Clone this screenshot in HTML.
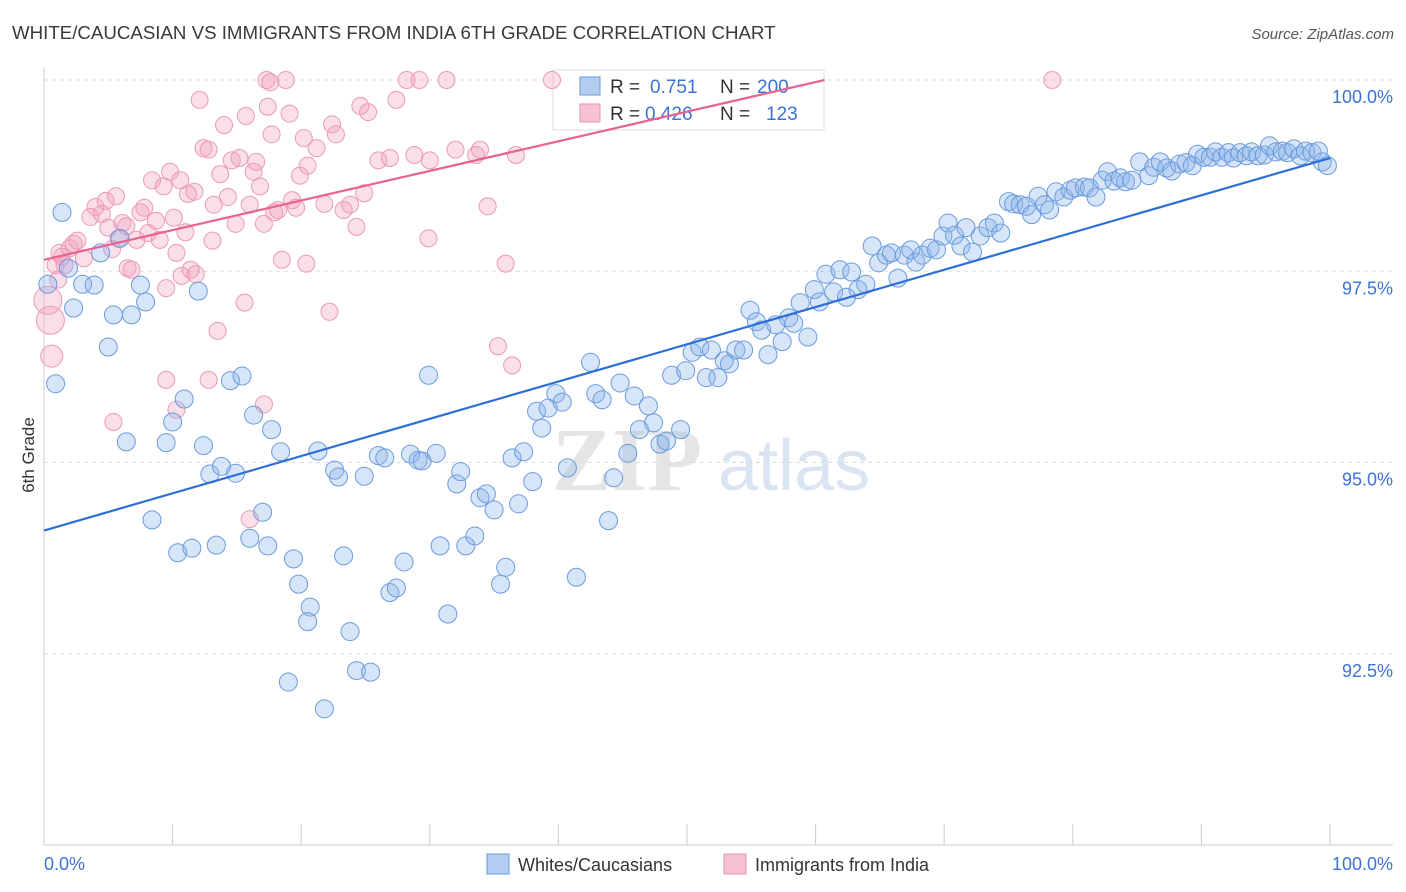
<!DOCTYPE html>
<html><head><meta charset="utf-8"><style>
body{margin:0;background:#fff;font-family:"Liberation Sans",sans-serif;}
svg{display:block}
</style></head><body>
<svg id="chart" width="1406" height="892" viewBox="0 0 1406 892">
<text x="12" y="39" font-size="18.7" fill="#3a3a3a">WHITE/CAUCASIAN VS IMMIGRANTS FROM INDIA 6TH GRADE CORRELATION CHART</text>
<text x="1394" y="39" font-size="15" fill="#555" font-style="italic" text-anchor="end">Source: ZipAtlas.com</text>
<text transform="translate(34,455) rotate(-90)" font-size="17" fill="#333" text-anchor="middle">6th Grade</text>
<g opacity="0.5">
<text x="552" y="490" font-size="90" fill="#ccc" font-family="Liberation Serif,serif" font-weight="bold">ZIP</text>
<text x="718" y="490" font-size="72" fill="#b9cbe6">atlas</text>
</g>
<g id="grid"></g><g id="axes"></g>
<g>
<rect x="553" y="70" width="271" height="60" fill="#fff" stroke="#ddd"/>
<rect x="580" y="77" width="20" height="18" fill="#b3cdf0" stroke="#6a9ad8"/>
<text x="610" y="93" font-size="19" fill="#333">R =</text><text x="650" y="93" font-size="19" fill="#3b72d9">0.751</text>
<text x="720" y="93" font-size="19" fill="#333">N =</text><text x="757" y="93" font-size="19" fill="#3b72d9">200</text>
<rect x="580" y="104" width="20" height="18" fill="#f7c3d4" stroke="#e890b0"/>
<text x="610" y="120" font-size="19" fill="#333">R =</text><text x="645" y="120" font-size="19" fill="#3b72d9">0.426</text>
<text x="720" y="120" font-size="19" fill="#333">N =</text><text x="766" y="120" font-size="19" fill="#3b72d9">123</text>
</g>
<g id="pinkPts"></g><g id="bluePts"></g><g id="lines"></g>
<g>
<rect x="487" y="854" width="22" height="20" fill="#b3cdf0" stroke="#6a9ad8"/>
<text x="518" y="871" font-size="18" fill="#333">Whites/Caucasians</text>
<rect x="724" y="854" width="22" height="20" fill="#f7c3d4" stroke="#e890b0"/>
<text x="755" y="871" font-size="18" fill="#333">Immigrants from India</text>
</g>
</svg>
<script>
const blueX=[1.4,1.9,0.3,2.3,0.9,3.0,3.9,4.4,5.9,5.4,6.8,5.0,7.5,7.9,12.0,6.4,9.5,10.0,10.9,8.4,10.4,11.5,12.4,12.9,13.4,13.8,14.9,14.5,15.4,16.3,16.0,17.0,17.4,17.7,18.4,19.4,19.8,20.7,20.5,19.0,21.8,21.3,22.6,22.9,23.3,23.8,24.3,25.4,24.9,26.0,26.5,26.9,27.4,28.0,28.5,29.1,29.4,29.9,30.5,30.8,31.4,32.1,32.4,32.8,33.5,33.9,34.4,35.0,35.5,35.9,36.4,36.9,37.3,38.0,38.3,38.7,39.2,39.8,40.3,40.7,41.4,42.5,42.9,43.4,43.9,44.3,44.8,45.4,45.9,46.3,47.0,47.4,47.9,48.4,48.8,49.5,49.9,50.4,51.0,51.5,51.9,52.4,52.9,53.3,53.8,54.4,54.9,55.4,55.8,56.3,56.9,57.4,57.9,58.3,58.8,59.4,59.9,60.3,60.8,61.4,61.9,62.4,62.8,63.3,63.9,64.4,64.9,65.5,65.9,66.4,66.9,67.4,67.8,68.3,68.9,69.4,69.9,70.3,70.8,71.3,71.7,72.2,72.8,73.4,73.9,74.4,75.0,75.4,75.9,76.4,76.8,77.3,77.8,78.2,78.7,79.3,79.8,80.2,80.9,81.3,81.8,82.3,82.7,83.2,83.7,84.1,84.6,85.2,85.9,86.3,86.8,87.3,87.7,88.3,88.8,89.3,89.7,90.2,90.7,91.1,91.6,92.1,92.5,93.0,93.5,93.9,94.4,94.9,95.3,95.8,96.3,96.7,97.2,97.7,98.1,98.6,99.1,99.4,99.8];
const blueY=[98.27,97.54,97.33,97.02,96.03,97.33,97.32,97.74,97.93,96.93,96.93,96.51,97.32,97.10,97.24,95.27,95.26,95.53,95.83,94.25,93.82,93.88,95.22,94.85,93.92,94.95,94.86,96.07,96.13,95.62,94.01,94.35,93.91,95.43,95.14,93.74,93.41,93.11,92.92,92.13,91.78,95.15,94.90,94.81,93.78,92.79,92.28,92.26,94.82,95.09,95.06,93.30,93.36,93.70,95.11,95.03,95.02,96.14,95.12,93.91,93.02,94.72,94.88,93.91,94.04,94.54,94.59,94.38,93.41,93.63,95.06,94.46,95.14,94.75,95.67,95.45,95.71,95.90,95.79,94.93,93.50,96.31,95.90,95.82,94.24,94.80,96.04,95.12,95.87,95.43,95.74,95.52,95.24,95.28,96.14,95.43,96.20,96.44,96.51,96.11,96.47,96.11,96.33,96.29,96.47,96.47,96.99,96.84,96.73,96.41,96.80,96.58,96.89,96.82,97.09,96.64,97.26,97.10,97.46,97.23,97.52,97.16,97.49,97.26,97.33,97.83,97.61,97.71,97.74,97.41,97.71,97.78,97.62,97.71,97.80,97.78,97.96,98.13,97.97,97.83,98.07,97.75,97.96,98.07,98.13,98.00,98.41,98.38,98.37,98.35,98.24,98.48,98.37,98.30,98.54,98.47,98.56,98.59,98.60,98.59,98.47,98.69,98.80,98.68,98.72,98.67,98.69,98.93,98.75,98.86,98.93,98.85,98.81,98.90,98.92,98.88,99.03,98.99,98.99,99.06,98.99,99.05,98.98,99.05,99.01,99.06,99.01,99.02,99.14,99.06,99.07,99.05,99.10,99.01,99.07,99.05,99.07,98.93,98.88];
const pinkX=[0.3,0.5,0.6,0.9,1.2,1.6,2.0,2.3,2.6,3.1,3.6,4.0,4.5,4.8,5.0,5.3,5.6,5.8,6.1,6.4,6.5,6.8,7.2,7.5,7.8,8.1,8.4,8.7,9.0,9.3,9.5,9.8,10.1,10.3,10.6,10.7,11.0,11.2,11.4,11.7,11.8,12.1,12.4,12.8,13.1,13.2,13.5,13.7,14.0,14.3,14.6,14.9,15.2,15.6,15.7,16.0,16.3,16.5,16.8,17.1,17.3,17.4,17.7,17.9,18.2,18.5,18.8,19.1,19.3,19.6,19.9,20.2,20.4,20.5,21.2,21.8,22.2,22.4,22.7,23.3,23.8,24.3,24.6,24.9,25.2,26.0,26.9,27.4,28.2,28.8,29.2,29.9,30.0,31.3,32.0,33.6,33.9,34.5,35.3,35.9,36.4,36.7,39.5,78.4,1.4,1.1,9.5,12.8,10.3,5.4,16.0,17.1,17.6];
const pinkY=[97.12,96.86,96.39,97.58,97.74,97.58,97.80,97.86,97.90,97.67,98.21,98.34,98.25,98.42,98.07,97.79,98.48,97.93,98.13,98.09,97.54,97.52,97.91,98.27,98.33,98.00,98.69,98.16,97.91,98.61,97.28,98.80,98.20,97.74,98.69,97.44,98.01,98.51,97.52,98.54,97.46,99.74,99.11,99.09,97.90,98.37,96.72,98.77,99.41,98.47,98.95,98.12,98.98,97.09,99.53,98.37,98.80,98.93,98.61,98.12,100,99.65,99.29,98.27,98.30,97.65,100,99.56,98.43,98.33,98.75,99.24,97.60,98.88,99.11,98.38,96.97,99.42,99.29,98.30,98.37,98.08,99.66,98.52,99.58,98.95,98.98,99.74,100,99.02,100,97.93,98.95,100,99.09,99.02,99.09,98.35,96.52,97.60,96.27,99.02,100,100,97.69,97.39,96.08,96.08,95.69,95.53,94.26,95.76,99.97];
const pinkSize=[14,14,11];
const blueTrend=[94.11,98.98];
const pinkTrend=[97.65,100,60.7];
const yTicks=[100,97.5,95,92.5];
const yTickLabels=["100.0%","97.5%","95.0%","92.5%"];
const xTicks=[0,10,20,30,40,50,60,70,80,90,100];
const NS="http://www.w3.org/2000/svg";
const X=v=>44+v*12.86, Y=v=>80+(100-v)*76.5;
function mk(tag,attrs,parent){const e=document.createElementNS(NS,tag);for(const k in attrs)e.setAttribute(k,attrs[k]);parent.appendChild(e);return e;}
const grid=document.getElementById('grid'),axes=document.getElementById('axes');
yTicks.forEach((t,i)=>{
 const l=mk('line',{x1:44,x2:1393,y1:Y(t),y2:Y(t),stroke:'#ddd','stroke-dasharray':'4,4'},grid);
 
 
 const tx=mk('text',{x:1393,y:Y(t)+23,'font-size':18,fill:'#3b72d9','text-anchor':'end'},axes);
 tx.textContent=yTickLabels[i];
 
 
});
const xa=mk('line',{x1:44,x2:1393,y1:845,y2:845,stroke:'#ccc'},axes);


const ya=mk('line',{x1:44,x2:44,y1:68,y2:845,stroke:'#ccc'},axes);


xTicks.forEach(t=>{
 const l=mk('line',{x1:X(t),x2:X(t),y1:824,y2:845,stroke:'#ccc'},axes);
 
 
});
[["0.0%",44,'start'],["100.0%",1393,'end']].forEach(a=>{
 const tx=mk('text',{x:a[1],y:870,'font-size':18,fill:'#3b72d9','text-anchor':a[2]},axes);
 tx.textContent=a[0];
 
 
});
const pg=document.getElementById('pinkPts');
pinkX.forEach((v,i)=>{
 const c=mk('circle',{cx:X(v),cy:Y(pinkY[i]),r:pinkSize[i]||8.5,fill:'rgba(242,160,190,0.35)',stroke:'#eb9ab8','stroke-width':1},pg);
 
 
});
const bg=document.getElementById('bluePts');
blueX.forEach((v,i)=>{
 const c=mk('circle',{cx:X(v),cy:Y(blueY[i]),r:9,fill:'rgba(140,180,235,0.35)',stroke:'#6b9bdc','stroke-width':1},bg);
 
 
});
const lg=document.getElementById('lines');
const bl=mk('line',{x1:X(0),y1:Y(blueTrend[0]),x2:X(100),y2:Y(blueTrend[1]),stroke:'#2d6fd6','stroke-width':2.2},lg);


const pl=mk('line',{x1:X(0),y1:Y(pinkTrend[0]),x2:X(pinkTrend[2]),y2:Y(pinkTrend[1]),stroke:'#e8638f','stroke-width':2.2},lg);


</script>
</body></html>
